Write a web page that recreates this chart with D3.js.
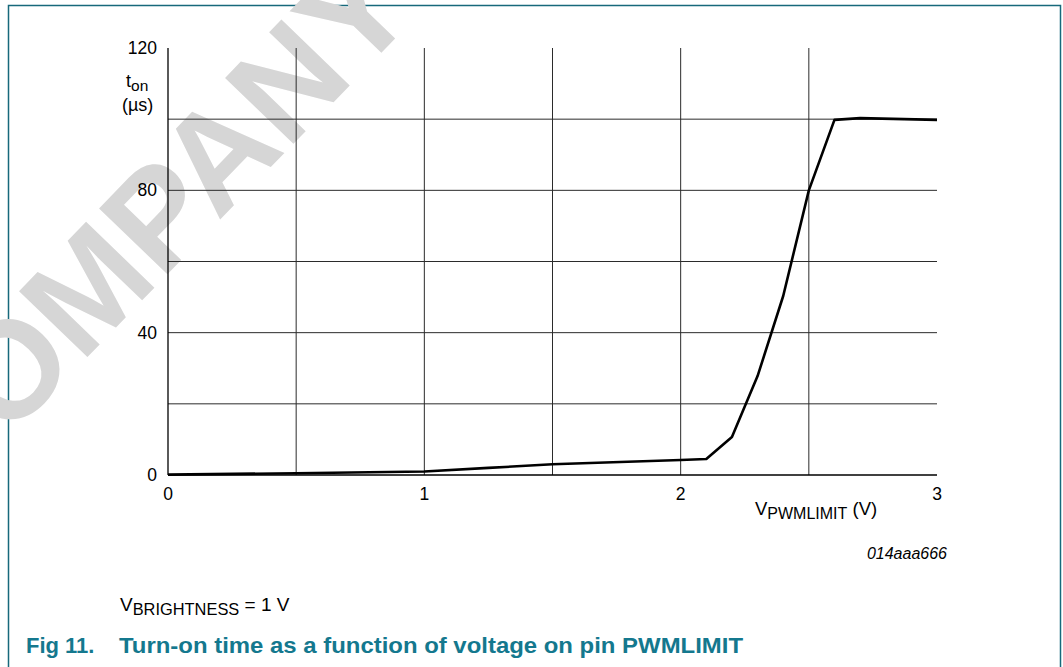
<!DOCTYPE html>
<html>
<head>
<meta charset="utf-8">
<script src="https://cdnjs.cloudflare.com/ajax/libs/d3/7.8.5/d3.min.js"></script>
<style>
body { margin: 0; background: #fff; font-family: "Liberation Sans", Arial, sans-serif; }
svg text { font-family: "Liberation Sans", Arial, sans-serif; }
</style>
</head>
<body>
<svg width="1063" height="667"></svg>
<script>
// curve: V(PWMLIMIT) in volts, t_on in microseconds
var voltage = [0, 0.5, 1, 1.25, 1.5, 2, 2.1, 2.2, 2.3, 2.4, 2.5, 2.6, 2.7, 3];
var tOn     = [0.1, 0.5, 1.0, 2.0, 3.0, 4.2, 4.5, 10.7, 27.8, 50.3, 80, 99.8, 100.3, 99.8];

var xTickLabels = [0, 1, 2, 3];
var yTickLabels = [0, 40, 80, 120];
var xGrid = [0.5, 1, 1.5, 2, 2.5];
var yGrid = [20, 40, 60, 80, 100];

var teal = "#17697b";
var titleTeal = "#14788e";

var svg = d3.select("svg");

// frame
svg.append("path")
  .attr("d", "M8.5,667 L8.5,5.5 L1060.5,5.5 L1060.5,667")
  .attr("fill", "none")
  .attr("stroke", teal)
  .attr("stroke-width", 1.5);

// watermark
svg.append("text")
  .attr("transform", "translate(143,228) rotate(-46)")
  .attr("text-anchor", "middle")
  .attr("dy", "0.36em")
  .attr("font-size", 138)
  .attr("font-weight", "bold")
  .attr("fill", "#d6d6d6")
  .text("COMPANY");

var x = d3.scaleLinear().domain([0, 3]).range([168, 937]);
var y = d3.scaleLinear().domain([0, 120]).range([475, 48]);

var g = svg.append("g");

// grid
g.selectAll(".vgrid").data(xGrid).enter().append("line")
  .attr("x1", function(d) { return x(d); })
  .attr("x2", function(d) { return x(d); })
  .attr("y1", y(120)).attr("y2", y(0))
  .attr("stroke", "#2b2b2b").attr("stroke-width", 1);

g.selectAll(".hgrid").data(yGrid).enter().append("line")
  .attr("x1", x(0)).attr("x2", x(3))
  .attr("y1", function(d) { return y(d); })
  .attr("y2", function(d) { return y(d); })
  .attr("stroke", "#2b2b2b").attr("stroke-width", 1);

// axes lines
g.append("line").attr("x1", x(0)).attr("x2", x(0)).attr("y1", y(120)).attr("y2", y(0))
  .attr("stroke", "#000").attr("stroke-width", 1.3);
g.append("line").attr("x1", x(0)).attr("x2", x(3)).attr("y1", y(0)).attr("y2", y(0))
  .attr("stroke", "#000").attr("stroke-width", 1.3);

// tick labels
g.selectAll(".xl").data(xTickLabels).enter().append("text")
  .attr("x", function(d) { return x(d); })
  .attr("y", 500)
  .attr("text-anchor", "middle")
  .attr("font-size", 17.5)
  .text(function(d) { return d; });

g.selectAll(".yl").data(yTickLabels).enter().append("text")
  .attr("x", 157)
  .attr("y", function(d) { return y(d) + 6; })
  .attr("text-anchor", "end")
  .attr("font-size", 17.5)
  .text(function(d) { return d; });

// the curve
var line = d3.line()
  .x(function(d, i) { return x(voltage[i]); })
  .y(function(d) { return y(d); });

g.append("path")
  .datum(tOn)
  .attr("d", line)
  .attr("fill", "none")
  .attr("stroke", "#000")
  .attr("stroke-width", 2.6)
  .attr("stroke-linejoin", "round");

// axis titles
var yt = svg.append("text").attr("x", 126).attr("y", 87).attr("font-size", 18);
yt.append("tspan").text("t");
yt.append("tspan").attr("dy", 4).attr("font-size", 15.5).text("on");
svg.append("text").attr("x", 122).attr("y", 111).attr("font-size", 18).text("(\u00b5s)");

var xt = svg.append("text").attr("x", 755).attr("y", 515).attr("font-size", 18.5);
xt.append("tspan").text("V");
xt.append("tspan").attr("dy", 4).attr("font-size", 16).text("PWMLIMIT");
xt.append("tspan").attr("dy", -4).text(" (V)");

svg.append("text")
  .attr("x", 947).attr("y", 559)
  .attr("text-anchor", "end")
  .attr("font-size", 16)
  .attr("font-style", "italic")
  .text("014aaa666");

var cond = svg.append("text").attr("x", 120).attr("y", 611).attr("font-size", 19);
cond.append("tspan").text("V");
cond.append("tspan").attr("dy", 4).attr("font-size", 16.4).text("BRIGHTNESS");
cond.append("tspan").attr("dy", -4).text(" = 1 V");

// figure caption
svg.append("text").attr("x", 26).attr("y", 653)
  .attr("font-size", 22).attr("font-weight", "bold").attr("fill", titleTeal)
  .text("Fig 11.");
svg.append("text").attr("x", 119).attr("y", 653)
  .attr("font-size", 22).attr("font-weight", "bold").attr("fill", titleTeal)
  .attr("textLength", 624).attr("lengthAdjust", "spacingAndGlyphs")
  .text("Turn-on time as a function of voltage on pin PWMLIMIT");
</script>
</body>
</html>
